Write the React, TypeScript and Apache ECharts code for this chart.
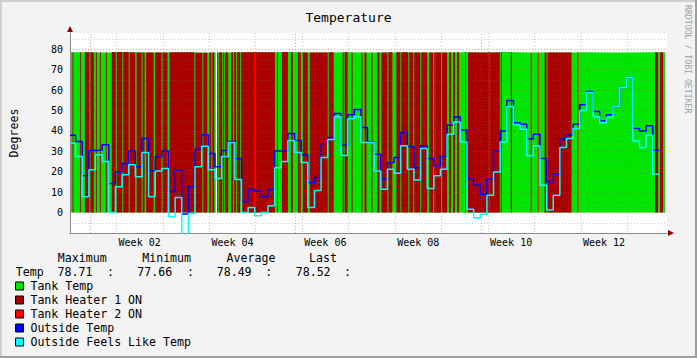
import { useEffect, useRef } from 'react';
import * as echarts from 'echarts';

const FONT = '"DejaVu Sans Mono", monospace';

// x values are days counted from Monday 29 Dec 2014, 00:00
const rangeStartDay = 0;
const rangeEndDay = 90;
const weekLabelDays = [10.5, 24.5, 38.5, 52.5, 66.5, 80.5];
const weekLabels = ['Week 02', 'Week 04', 'Week 06', 'Week 08', 'Week 10', 'Week 12'];
const monthStartDays = [3, 34, 62];
const yTickValues = [0, 10, 20, 30, 40, 50, 60, 70, 80];

// tank temperature, one value every 3 days
const tankTempStepDays = 3;
const tankTemp = [
  78.6, 78.5, 78.7, 78.4, 78.5, 78.6, 78.3, 78.5, 78.6, 78.4,
  78.71, 78.5, 78.5, 78.6, 78.4, 78.5, 78.6, 78.5, 78.4, 78.6,
  78.5, 78.7, 78.5, 78.4, 78.5, 78.6, 78.4, 78.5, 78.6, 78.52,
];
const tankGap = [21.75, 22.2];
const tankDataEnd = 89.7;

// heater ON periods [startDay, endDay]
const heater1On = [
  [0.38, 0.5], [1.5, 1.6], [2.25, 2.93], [3.08, 3.6], [3.9, 4.05], [4.5, 4.65], [5.4, 5.55],
  [6.3, 6.9], [7.05, 7.88], [8.03, 8.85], [9.0, 9.83], [10.05, 10.8], [10.95, 11.25],
  [11.48, 12.6], [12.83, 13.8], [13.95, 14.7], [15.0, 18.75], [18.9, 19.95], [20.1, 20.7],
  [21.0, 21.3], [21.45, 21.75], [22.2, 22.35], [22.5, 22.95], [23.1, 23.25], [23.4, 23.85],
  [24.3, 24.6], [24.75, 25.05], [25.2, 25.65], [25.8, 30.9], [31.2, 31.35], [31.95, 32.85],
  [33.3, 33.6], [34.35, 34.8], [35.1, 35.85], [36.15, 38.85], [39.0, 39.75], [41.1, 41.25],
  [41.4, 41.85], [42.45, 42.6], [43.95, 44.1], [44.4, 44.7], [45.45, 45.6], [46.35, 46.65],
  [46.95, 47.85], [48.0, 48.6], [49.2, 49.8], [49.95, 51.0], [51.15, 51.75], [51.9, 52.8],
  [52.95, 53.85], [54.15, 54.75], [54.9, 55.95], [56.1, 56.85], [57.15, 57.45], [57.75, 58.05],
  [58.35, 58.65], [59.55, 59.7], [60.0, 64.8], [64.95, 65.1], [66.45, 66.6], [71.55, 71.85],
  [72.0, 75.6], [88.2, 88.65], [88.95, 89.4],
];
const heater2On = [
  [27.75, 27.98], [34.5, 34.65], [55.05, 55.2], [63.15, 63.3], [69.45, 69.6], [70.5, 70.65], [76.5, 76.65],
];

// daily outside values (day 0 .. day 88)
const dayBoundaryShift = -0.15;
const outsideDataEnd = 88.85;
const outsideTemp = [
  37.9, 34.8, 18, 30.4, 30.7, 33.3, 14.2, 20, 24, 30.2,
  22.5, 36.3, 20.4, 27.5, 30.2, 10.3, 21, -0.7, 12.7, 31,
  38.2, 29, 22.5, 30.4, 34.8, 26.5, 5.4, 11.3, 10.5, 7.8,
  11.3, 30.2, 29.9, 38.7, 35.3, 28.4, 14.7, 17.2, 33.8, 36.8,
  48.5, 33, 47.9, 50.5, 41.7, 34.6, 28.6, 16.3, 24.5, 27,
  39.2, 32.4, 22, 32.7, 26.5, 22.9, 27.5, 42.8, 46.9, 40.5,
  16.3, 13.4, 9, 16.3, 30.2, 40, 54.9, 44, 43.3, 36,
  38.4, 26.5, 15, 18.8, 36, 37.9, 43.3, 52.9, 59.3, 49.5,
  45, 47.9, 52, 61.3, 66.2, 41.2, 40, 42.5, 30.6,
];
const feelsLike = [
  34, 27.5, 7.8, 21, 28.4, 25, 0, 12.7, 18.6, 23.5,
  17.6, 29.4, 7.8, 20.4, 21.6, -2, 7.4, -11, -0.5, 22.5,
  32.5, 21, 16.7, 27.5, 34.3, 16.2, 0, 2.5, -1.5, 0,
  3.4, 22, 25, 35.3, 29.4, 24.5, 2.5, 10.8, 27, 35.8,
  47, 28, 46, 47, 34.3, 34.3, 20.4, 11.4, 21.2, 19.3,
  32.7, 21.2, 16, 31.4, 11.8, 18, 21.2, 38.4, 44.4, 34.6,
  1.6, -2.5, -0.8, 8.5, 19.9, 34.6, 52, 43, 40.8, 27.8,
  32.7, 13.4, 1.3, 8.5, 31.9, 36.3, 41.2, 50, 58.8, 47,
  44, 46.6, 52, 61.3, 66.2, 35.1, 31.9, 37.9, 18.8,
];

const statHeaders = ['Maximum', 'Minimum', 'Average', 'Last'];
const statValues = ['78.71', '77.66', '78.49', '78.52'];
const legendNames = ['Tank Temp', 'Tank Heater 1 ON', 'Tank Heater 2 ON', 'Outside Temp', 'Outside Feels Like Temp'];
const legendColors = ['#00E600', '#AA0000', '#FF0000', '#0000FF', '#00FFFF'];

const MINOR = 'rgba(120,120,120,0.38)';
const MAJOR = 'rgba(175,70,70,0.45)';
const AXIS = '#888888';
const ARROW = '#8B0000';

function tankAt(day: number) {
  const i = Math.min(Math.floor(day / tankTempStepDays), tankTemp.length - 1);
  return tankTemp[i];
}

function tankPoints() {
  const pts: any[] = [];
  tankTemp.forEach((v, i) => {
    const d = i * tankTempStepDays;
    pts.push([d, v]);
    if (tankGap[0] > d && tankGap[0] < d + tankTempStepDays) {
      pts.push([tankGap[0], v]);
      pts.push([(tankGap[0] + tankGap[1]) / 2, null]);
      pts.push([tankGap[1], v]);
    }
  });
  pts.push([tankDataEnd, tankTemp[tankTemp.length - 1]]);
  return pts;
}

function dailyPoints(values: number[]) {
  const pts: number[][] = values.map((v, k) => [k === 0 ? 0 : k + dayBoundaryShift, v]);
  pts.push([outsideDataEnd, values[values.length - 1]]);
  return pts;
}

function heaterSeries(name: string, intervals: number[][], color: string, z: number) {
  return {
    type: 'custom',
    name,
    z,
    silent: true,
    data: intervals.map(([s, e]) => [s, e, tankAt(s)]),
    encode: { x: [0, 1], y: 2 },
    renderItem: (_params: any, api: any) => {
      const p0 = api.coord([api.value(0), api.value(2)]);
      const p1 = api.coord([api.value(1), 0]);
      return {
        type: 'rect',
        shape: { x: p0[0], y: p0[1], width: Math.max(p1[0] - p0[0], 0.9), height: p1[1] - p0[1] },
        style: { fill: color },
      };
    },
  };
}

function txt(x: number, y: number, text: string, extra: any = {}) {
  return {
    type: 'text',
    x,
    y,
    silent: true,
    style: { text, fill: '#000', font: `11.6px ${FONT}`, align: 'left', verticalAlign: 'middle', ...extra },
  };
}

function buildOption() {
  const graphics: any[] = [
    { type: 'rect', silent: true, shape: { x: 0, y: 0, width: 697, height: 2 }, style: { fill: '#CFCFCF' } },
    { type: 'rect', silent: true, shape: { x: 0, y: 0, width: 2, height: 358 }, style: { fill: '#CFCFCF' } },
    { type: 'rect', silent: true, shape: { x: 0, y: 356, width: 697, height: 2 }, style: { fill: '#9E9E9E' } },
    { type: 'rect', silent: true, shape: { x: 695, y: 0, width: 2, height: 358 }, style: { fill: '#9E9E9E' } },
    {
      type: 'text', x: 688, y: 5, rotation: -Math.PI / 2, silent: true,
      style: { text: 'RRDTOOL / TOBI OETIKER', fill: '#A0A0A0', font: `8.2px ${FONT}`, align: 'left', verticalAlign: 'middle' },
    },
  ];
  const headerX = [57.8, 142.2, 226.5, 309];
  statHeaders.forEach((h, i) => graphics.push(txt(headerX[i], 258, h)));
  graphics.push(txt(15.8, 272, 'Temp'));
  const valueX = [57.5, 137.3, 216.7, 295.7];
  const colonX = [110.5, 190.5, 268.8, 347.5];
  statValues.forEach((v, i) => {
    graphics.push(txt(valueX[i], 272, v));
    graphics.push(txt(colonX[i], 272, ':', { align: 'center' }));
  });
  legendNames.forEach((n, i) => {
    const cy = 286 + i * 14;
    graphics.push({
      type: 'rect', silent: true,
      shape: { x: 15.5, y: cy - 4, width: 8, height: 8 },
      style: { fill: legendColors[i], stroke: '#000', lineWidth: 1 },
    });
    graphics.push(txt(30.4, cy, n));
  });

  return {
    animation: false,
    backgroundColor: '#F3F3F3',
    title: {
      text: 'Temperature',
      left: 'center',
      top: 6,
      textStyle: { fontFamily: FONT, fontSize: 13, fontWeight: 'normal', color: '#000' },
    },
    grid: { left: 67, top: 33, width: 600, height: 200, show: true, backgroundColor: '#FFFFFF', borderWidth: 0 },
    xAxis: [
      {
        type: 'value', min: rangeStartDay, max: rangeEndDay, interval: 7, position: 'bottom', z: 3,
        axisLine: { show: true, onZero: false, lineStyle: { color: AXIS, width: 1 } },
        axisTick: { show: false },
        axisLabel: {
          show: true,
          customValues: weekLabelDays,
          formatter: (v: number) => {
            const i = weekLabelDays.findIndex((d) => Math.abs(d - v) < 1e-6);
            return i >= 0 ? weekLabels[i] : '';
          },
          margin: 4, color: '#000', fontFamily: FONT, fontSize: 10,
        },
        splitLine: { show: true, showMinLine: false, showMaxLine: false, lineStyle: { color: MINOR, type: [1, 2], width: 1 } },
      },
      {
        type: 'value', min: rangeStartDay, max: rangeEndDay, position: 'bottom', z: 4,
        axisLine: {
          show: true, onZero: false, symbol: ['none', 'triangle'], symbolSize: [6, 6], symbolOffset: [0, 4],
          lineStyle: { color: ARROW, width: 0 },
        },
        axisTick: { show: false }, axisLabel: { show: false }, splitLine: { show: false },
      },
    ],
    yAxis: [
      {
        type: 'value', min: -10, max: 88, interval: 5, position: 'left', z: 3,
        name: 'Degrees', nameLocation: 'middle', nameRotate: 90, nameGap: 50,
        nameTextStyle: { fontFamily: FONT, fontSize: 11.6, color: '#000' },
        axisLine: { show: true, onZero: false, lineStyle: { color: AXIS, width: 1 } },
        axisTick: { show: false },
        axisLabel: {
          formatter: (v: number) => (yTickValues.includes(v) ? String(v) : ''),
          margin: 7, color: '#000', fontFamily: FONT, fontSize: 10,
        },
        splitLine: { show: true, showMinLine: true, showMaxLine: false, lineStyle: { color: [MAJOR, MINOR], type: [1, 2], width: 1 } },
      },
      {
        type: 'value', min: -10, max: 88, position: 'left', z: 4,
        axisLine: {
          show: true, onZero: false, symbol: ['none', 'triangle'], symbolSize: [6, 6], symbolOffset: [0, 4],
          lineStyle: { color: ARROW, width: 0 },
        },
        axisTick: { show: false }, axisLabel: { show: false }, splitLine: { show: false },
      },
    ],
    series: [
      {
        type: 'line', name: 'Tank Temp', z: 1, step: 'end', symbol: 'none', silent: true,
        data: tankPoints(),
        lineStyle: { width: 0, color: legendColors[0] },
        itemStyle: { color: legendColors[0] },
        areaStyle: { color: legendColors[0], opacity: 1 },
        markLine: {
          silent: true, symbol: ['none', 'none'], label: { show: false }, z: 5,
          lineStyle: { color: MAJOR, type: [1, 2], width: 1 },
          data: monthStartDays.map((d) => ({ xAxis: d })),
        },
      },
      heaterSeries('Tank Heater 1 ON', heater1On, legendColors[1], 2),
      heaterSeries('Tank Heater 2 ON', heater2On, legendColors[2], 2.5),
      {
        type: 'line', name: 'Outside Temp', z: 6, step: 'end', symbol: 'none', silent: true,
        data: dailyPoints(outsideTemp),
        lineStyle: { width: 1.5, color: legendColors[3] },
        itemStyle: { color: legendColors[3] },
      },
      {
        type: 'line', name: 'Outside Feels Like Temp', z: 7, step: 'end', symbol: 'none', silent: true,
        data: dailyPoints(feelsLike),
        lineStyle: { width: 1.5, color: legendColors[4] },
        itemStyle: { color: legendColors[4] },
      },
    ],
    graphic: graphics,
  };
}

export default function App() {
  const ref = useRef<HTMLDivElement>(null);
  useEffect(() => {
    const chart = echarts.init(ref.current!, null, { renderer: 'svg' });
    chart.setOption(buildOption() as any);
    return () => chart.dispose();
  }, []);
  return <div ref={ref} style={{ position: 'absolute', left: 0, top: 0, width: 697, height: 358 }} />;
}
